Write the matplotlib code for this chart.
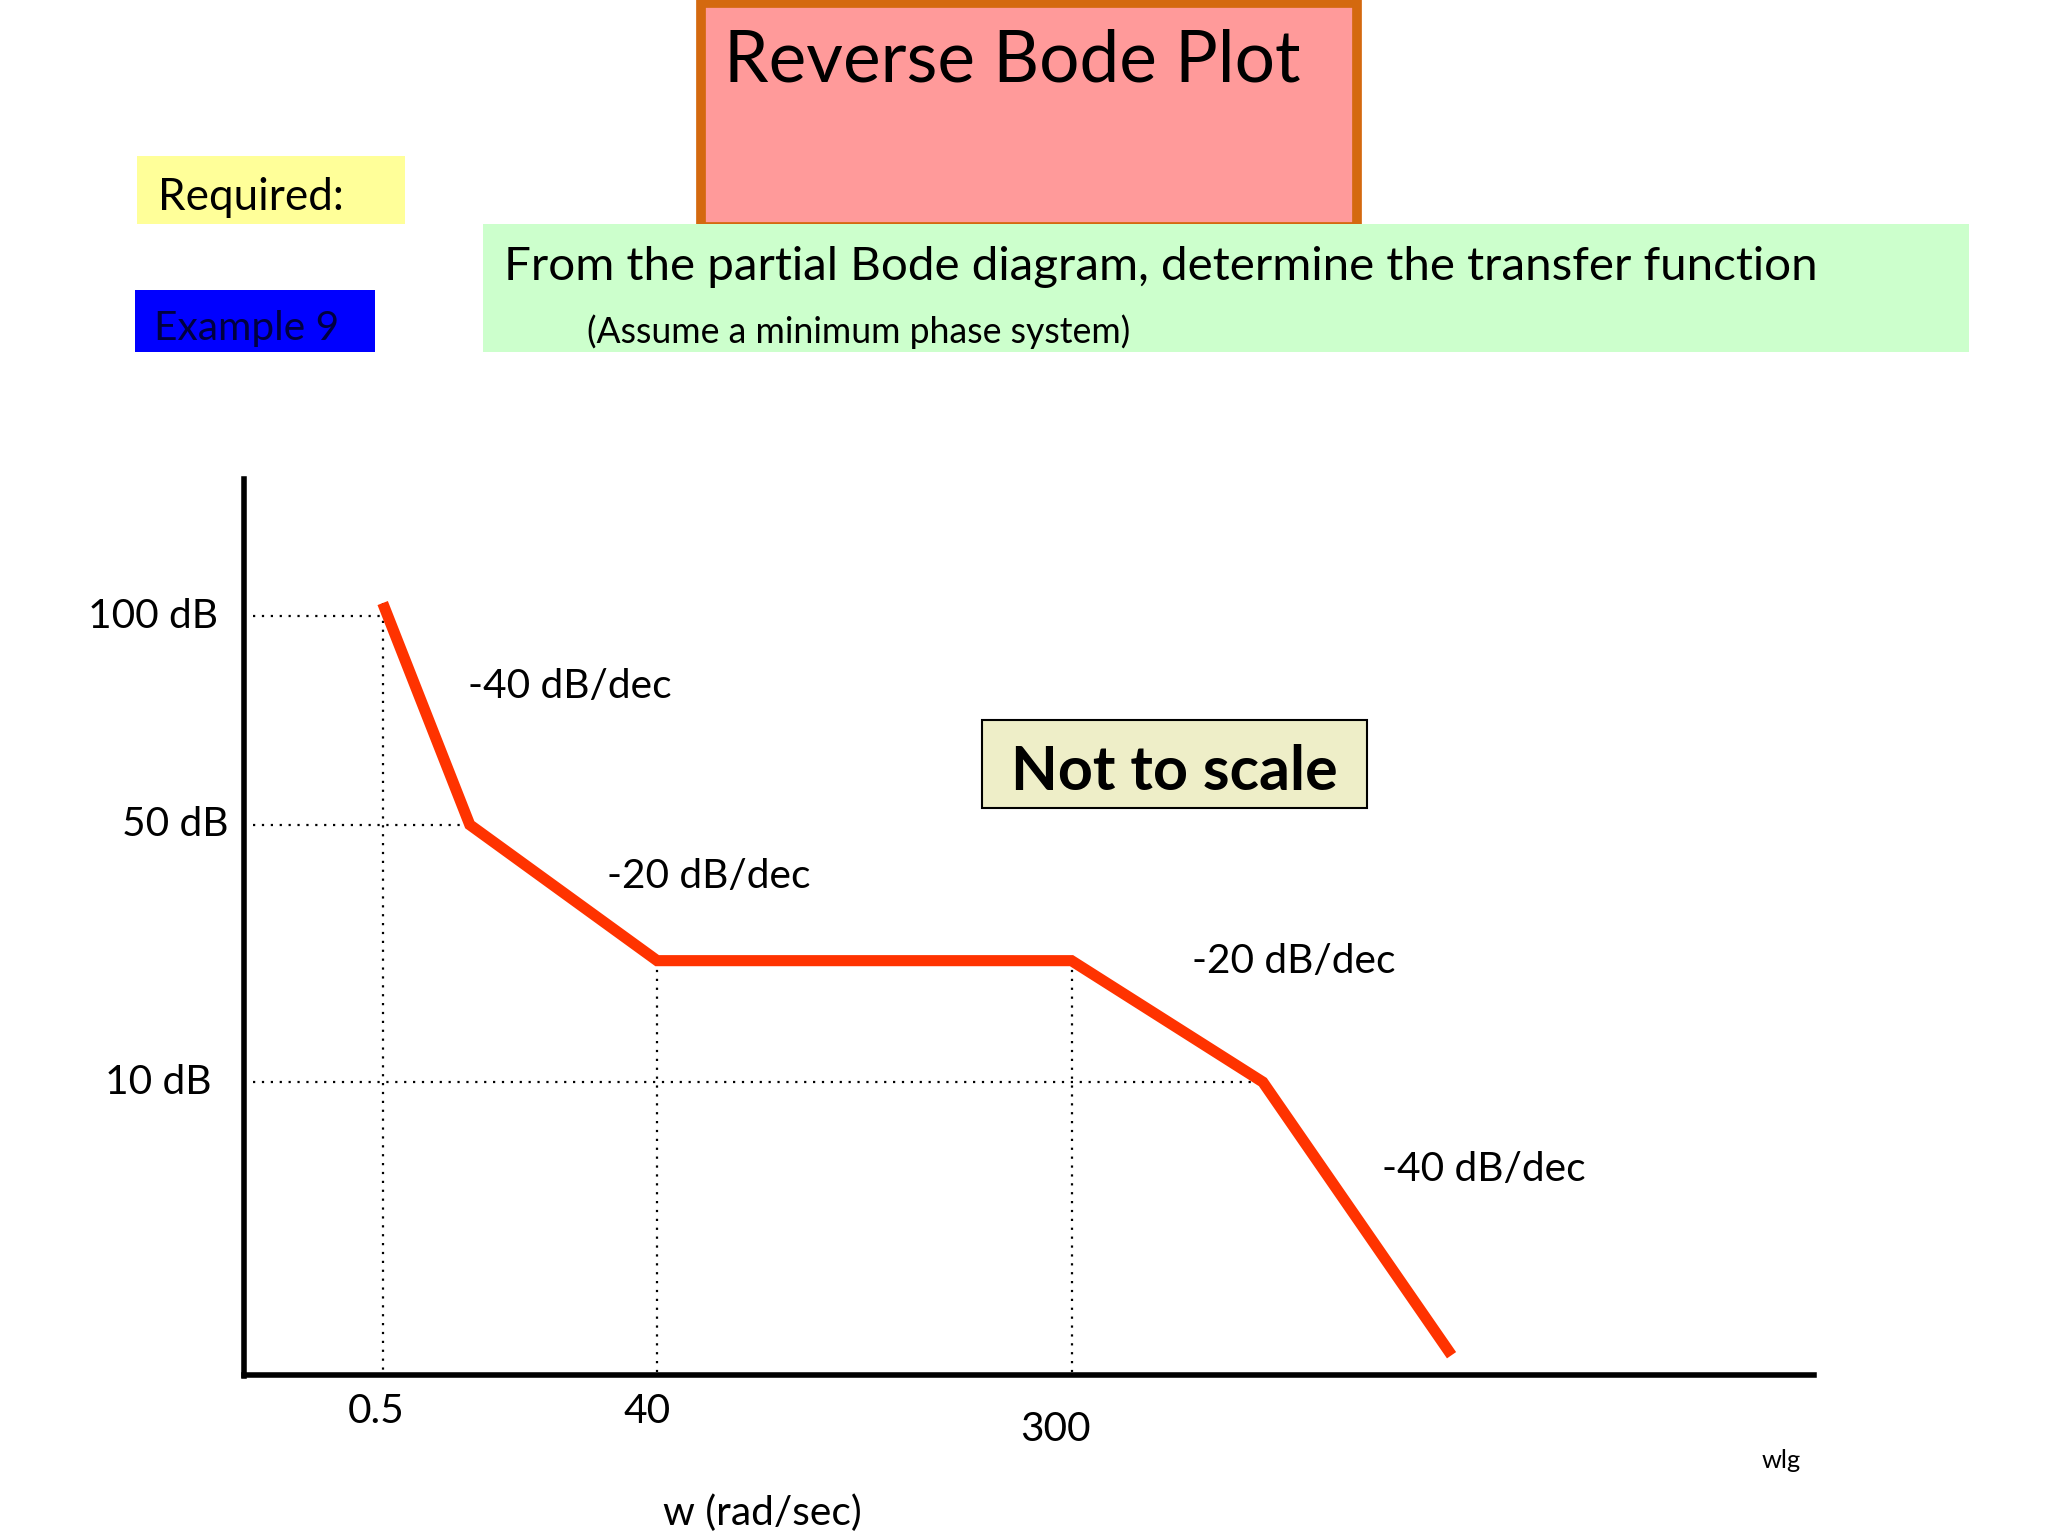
import matplotlib
matplotlib.use("Agg")
import matplotlib.pyplot as plt
from matplotlib.patches import Rectangle

plt.rcParams['font.family'] = ['Lato', 'DejaVu Sans']

# Data (positions in the picture's own "not to scale" frame, display px of a 1552x1164 slide)
corner_x = [290, 356, 498, 812, 957, 1100]
corner_y = [457, 625, 728, 728, 820, 1027]
slope_labels = ["-40 dB/dec", "-20 dB/dec", "-20 dB/dec", "-40 dB/dec"]
slope_pos = [(355, 520), (460, 664), (903, 729), (1047, 886)]
db_labels = ["100 dB", "50 dB", "10 dB"]
db_y = [467, 625, 820]
db_x = [165, 173, 160]
freq_labels = ["0.5", "40", "300"]
freq_x = [290, 498, 812]
freq_label_y = [1070, 1070, 1083]
freq_label_x = [285, 490, 800]

W, H = 1552, 1164
k = 1.22
fig = plt.figure(figsize=(20.48, 15.36), dpi=100)
ax = fig.add_axes([0, 0, 1, 1])
ax.set_xlim(0, W); ax.set_ylim(H, 0); ax.axis('off')

ax.add_patch(Rectangle((531, 2), 497, 170, fc='#ff9a9a', ec='#d4690f', lw=7))
ax.text(549, 46, "Reverse Bode Plot", fontsize=42*k, va='center', ha='left')
ax.add_patch(Rectangle((104, 118), 203, 52, fc='#ffff99', ec='none'))
ax.text(120, 150, "Required:", fontsize=26*k, va='center')
ax.add_patch(Rectangle((102, 220), 182, 47, fc='#0000ff', ec='none'))
ax.text(117, 249, "Example 9", fontsize=24*k, va='center', color='#000040')
ax.add_patch(Rectangle((366, 170), 1126, 97, fc='#ccffcc', ec='none'))
ax.text(382, 202, "From the partial Bode diagram, determine the transfer function", fontsize=28*k, va='center')
ax.text(445, 251, "(Assume a minimum phase system)", fontsize=21*k, va='center')

ax.plot([185, 185], [363, 1043], color='black', lw=4)
ax.plot([185, 1375], [1042, 1042], color='black', lw=4)

dot = dict(color='black', lw=1.6, ls=(0, (1, 3)))
ax.plot([192, corner_x[0]], [db_y[0]] * 2, **dot)
ax.plot([192, corner_x[1]], [db_y[1]] * 2, **dot)
ax.plot([192, corner_x[4]], [db_y[2]] * 2, **dot)
for x, y in [(corner_x[0], corner_y[0]), (corner_x[2], corner_y[2]), (corner_x[3], corner_y[3])]:
    ax.plot([x, x], [y, 1040], **dot)

ax.plot(corner_x, corner_y, color='#ff3300', lw=8, solid_capstyle='butt', solid_joinstyle='miter')

for s, (x, y) in zip(slope_labels, slope_pos):
    ax.text(x, y, s, fontsize=24*k, va='center', ha='left')
for s, x, y in zip(db_labels, db_x, db_y):
    ax.text(x, y, s, fontsize=24*k, va='center', ha='right')
for s, x, y in zip(freq_labels, freq_label_x, freq_label_y):
    ax.text(x, y, s, fontsize=24*k, va='center', ha='center')

ax.text(578, 1147, "w (rad/sec)", fontsize=24*k, va='center', ha='center')
ax.text(1350, 1107, "wlg", fontsize=15*k, va='center', ha='center')

ax.add_patch(Rectangle((744, 546), 292, 66, fc='#eeeec8', ec='black', lw=1.5))
ax.text(890, 585, "Not to scale", fontsize=36*k, fontweight='bold', va='center', ha='center')

fig.savefig("out.png", dpi=100)
